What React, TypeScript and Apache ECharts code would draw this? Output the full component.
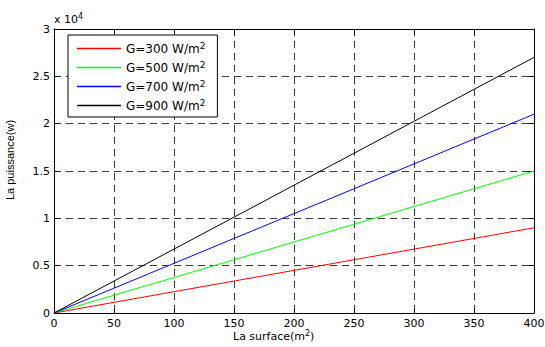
import React, { useEffect, useRef } from "react";
import * as echarts from "echarts";

const surfaces = [0, 50, 100, 150, 200, 250, 300, 350, 400];
const g300 = [0, 1125, 2250, 3375, 4500, 5625, 6750, 7875, 9000];
const g500 = [0, 1875, 3750, 5625, 7500, 9375, 11250, 13125, 15000];
const g700 = [0, 2625, 5250, 7875, 10500, 13125, 15750, 18375, 21000];
const g900 = [0, 3375, 6750, 10125, 13500, 16875, 20250, 23625, 27000];
const seriesNames = ["G=300 W/m²", "G=500 W/m²", "G=700 W/m²", "G=900 W/m²"];
const seriesColors = ["#ff0000", "#00ff00", "#0000ff", "#000000"];
const seriesValues = [g300, g500, g700, g900];
const xTitle = "La surface(m²)";
const yTitle = "La puissance(w)";
const yScaleNote = "x 10⁴";

const FONT_H = "DejaVu Sans";
const FONT_V = "Liberation Sans";

export default function App() {
  const ref = useRef<HTMLDivElement>(null);
  useEffect(() => {
    if (!ref.current) return;
    const chart = echarts.init(ref.current, null, { renderer: "svg" });
    const gridLine = { show: true, lineStyle: { color: "#3a3a3a", type: [7, 5], width: 1 } };
    const axisLine = { show: true, onZero: false, lineStyle: { color: "#000", width: 1 } };
    const axisTick = { show: true, inside: true, length: 5, lineStyle: { color: "#000", width: 1 } };
    const supRich = {
      a: { fontFamily: FONT_H, fontSize: 11, color: "#000", lineHeight: 15 },
      s: { fontFamily: FONT_H, fontSize: 8, color: "#000", lineHeight: 8, padding: [0, 0, 7, 0] },
    };
    chart.setOption({
      animation: false,
      backgroundColor: "#fff",
      grid: { left: 54, right: 11, top: 29, bottom: 34, containLabel: false, outerBoundsMode: "none" },
      legend: {
        orient: "vertical",
        left: 68,
        top: 35,
        padding: [6, 12, 4, 9],
        icon: "rect",
        itemWidth: 44,
        itemHeight: 1.4,
        itemGap: 4,
        itemTextGap: 5,
        borderColor: "#000",
        borderWidth: 1,
        backgroundColor: "#fff",
        data: seriesNames,
        formatter: (n: string) => "{a|" + n.replace("²", "") + "}{s|2}",
        textStyle: {
          rich: {
            a: { fontFamily: FONT_H, fontSize: 12, color: "#000", lineHeight: 15 },
            s: { fontFamily: FONT_H, fontSize: 9, color: "#000", lineHeight: 9, padding: [0, 0, 6, 0] },
          },
        },
      },
      xAxis: [
        {
          type: "value",
          min: 0,
          max: 400,
          interval: 50,
          axisLine,
          axisTick,
          splitLine: gridLine,
          axisLabel: { fontFamily: FONT_H, fontSize: 11, color: "#000", margin: 5 },
        },
        {
          type: "value",
          position: "top",
          min: 0,
          max: 400,
          interval: 50,
          axisLine,
          axisTick,
          splitLine: { show: false },
          axisLabel: { show: false },
        },
      ],
      yAxis: [
        {
          type: "value",
          min: 0,
          max: 30000,
          interval: 5000,
          axisLine,
          axisTick,
          splitLine: gridLine,
          axisLabel: {
            fontFamily: FONT_H,
            fontSize: 11,
            color: "#000",
            margin: 4,
            formatter: (v: number) => String(v / 10000),
          },
        },
        {
          type: "value",
          position: "right",
          min: 0,
          max: 30000,
          interval: 5000,
          axisLine,
          axisTick,
          splitLine: { show: false },
          axisLabel: { show: false },
        },
      ],
      series: seriesNames.map((name, i) => ({
        name,
        type: "line",
        symbol: "none",
        color: seriesColors[i],
        lineStyle: { width: 1, color: seriesColors[i] },
        data: surfaces.map((s, j) => [s, seriesValues[i][j]]),
        z: 3,
      })),
      graphic: [
        {
          type: "text",
          left: 54,
          top: 12,
          style: {
            text: "{a|" + yScaleNote.replace("⁴", "") + "}{s|4}",
            rich: supRich,
          },
        },
        {
          type: "text",
          left: 233,
          top: 329,
          style: {
            text: "{a|" + xTitle.replace("²)", "") + "}{s|2}{a|)}",
            rich: supRich,
          },
        },
        {
          type: "text",
          x: 10,
          y: 160,
          rotation: Math.PI / 2,
          style: {
            text: yTitle,
            fontFamily: FONT_V,
            fontSize: 11,
            fill: "#000",
            align: "center",
            verticalAlign: "middle",
          },
        },
      ],
    });
    return () => chart.dispose();
  }, []);
  return (
    <div
      ref={ref}
      style={{ position: "fixed", left: 0, top: 0, width: 545, height: 347, background: "#fff" }}
    />
  );
}
